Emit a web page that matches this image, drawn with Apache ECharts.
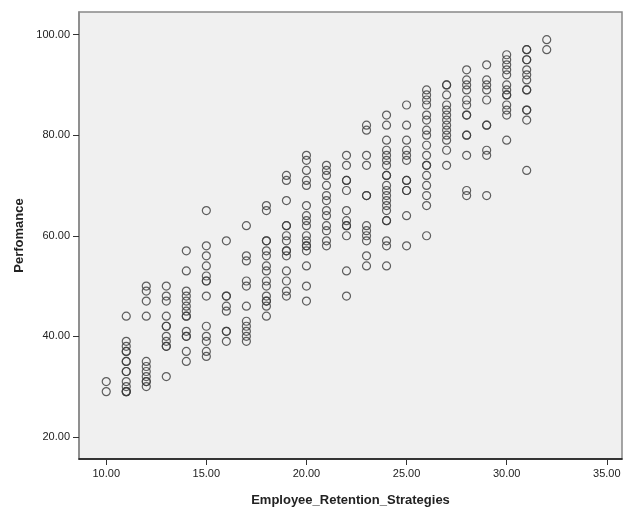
<!DOCTYPE html>
<html>
<head>
<meta charset="utf-8">
<script src="https://cdn.jsdelivr.net/npm/echarts@6/dist/echarts.min.js"></script>
<style>html,body{margin:0;padding:0;background:#fff}#c{width:624px;height:512px}</style>
</head>
<body>
<div id="c"></div>
<script>
// Employee_Retention_Strategies (x) -> list of Perfomance values (y)
const xValues = [10,11,12,13,14,15,16,17,18,19,20,21,22,23,24,25,26,27,28,29,30,31,32];
const perf10 = [31,29];
const perf11 = [44,39,38,37,37,35,35,33,33,31,30,29,29,29];
const perf12 = [50,49,47,44,35,34,33,32,31,31,30];
const perf13 = [50,48,47,44,42,42,40,39,38,38,32];
const perf14 = [57,53,49,48,47,46,45,44,44,41,40,40,37,35];
const perf15 = [65,58,56,54,52,51,51,48,42,40,39,37,36];
const perf16 = [59,48,48,46,45,41,41,39];
const perf17 = [62,56,55,51,50,46,43,42,41,40,39];
const perf18 = [66,65,59,59,57,56,54,53,51,50,48,47,47,46,44];
const perf19 = [72,71,67,62,62,60,59,57,57,56,53,51,49,48];
const perf20 = [76,75,73,71,70,66,64,63,62,60,59,58,58,57,54,50,47];
const perf21 = [74,73,72,70,68,67,65,64,62,61,59,58];
const perf22 = [76,74,71,71,69,65,63,62,62,60,53,48];
const perf23 = [82,81,76,74,68,68,62,61,60,59,56,54];
const perf24 = [84,82,79,77,76,75,74,72,72,70,69,68,67,66,65,63,63,59,58,54];
const perf25 = [86,82,79,77,76,75,71,71,69,69,64,58];
const perf26 = [89,88,87,86,84,83,81,80,78,76,74,74,72,70,68,66,60];
const perf27 = [90,90,88,86,85,84,83,82,81,80,79,77,74];
const perf28 = [93,91,90,89,87,86,84,84,80,80,76,69,68];
const perf29 = [94,91,90,89,87,82,82,77,76,68];
const perf30 = [96,95,94,93,92,90,89,88,88,86,85,84,79];
const perf31 = [97,97,95,95,93,92,91,89,89,85,85,83,73];
const perf32 = [99,97];
const perfByX = [perf10,perf11,perf12,perf13,perf14,perf15,perf16,perf17,perf18,perf19,perf20,
  perf21,perf22,perf23,perf24,perf25,perf26,perf27,perf28,perf29,perf30,perf31,perf32];
const xTicks = [10,15,20,25,30,35];
const yTicks = [20,40,60,80,100];

const points = [];
xValues.forEach((x,i)=>perfByX[i].forEach(y=>points.push([x,y])));

const chart = echarts.init(document.getElementById('c'), null, {renderer:'canvas'});
const labelFont = {fontFamily:'Arial, "Liberation Sans", sans-serif', fontSize:11, color:'#222'};
chart.setOption({
  animation:false,
  backgroundColor:'#ffffff',
  grid:{left:79, top:12, right:2, bottom:49, show:true, backgroundColor:'#f0f0f0', borderColor:'#888', borderWidth:1.5},
  xAxis:{
    type:'value', min:8.64, max:35.76,
    name:'Employee_Retention_Strategies', nameLocation:'middle', nameGap:35,
    nameTextStyle:{fontFamily:'Arial, "Liberation Sans", sans-serif', fontSize:13, fontWeight:'bold', color:'#222'},
    axisLine:{show:true, onZero:false, lineStyle:{color:'#111', width:1.5}},
    axisTick:{show:true, length:6, customValues:xTicks, lineStyle:{color:'#333'}},
    axisLabel:Object.assign({customValues:xTicks, margin:9, formatter:v=>v.toFixed(2)}, labelFont),
    splitLine:{show:false}
  },
  yAxis:{
    type:'value', min:15.6, max:104.5,
    name:'Perfomance', nameLocation:'middle', nameGap:52, nameRotate:90,
    nameTextStyle:{fontFamily:'Arial, "Liberation Sans", sans-serif', fontSize:13, fontWeight:'bold', color:'#222'},
    axisLine:{show:true, onZero:false, lineStyle:{color:'#888', width:1.5}},
    axisTick:{show:true, length:6, customValues:yTicks, lineStyle:{color:'#333'}},
    axisLabel:Object.assign({customValues:yTicks, margin:9, formatter:v=>v.toFixed(2)}, labelFont),
    splitLine:{show:false}
  },
  series:[{
    type:'scatter', data:points, symbol:'circle', symbolSize:8,
    itemStyle:{color:'rgba(0,0,0,0)', borderColor:'#3a3a3a', borderWidth:1.2}
  }]
});
</script>
</body>
</html>
